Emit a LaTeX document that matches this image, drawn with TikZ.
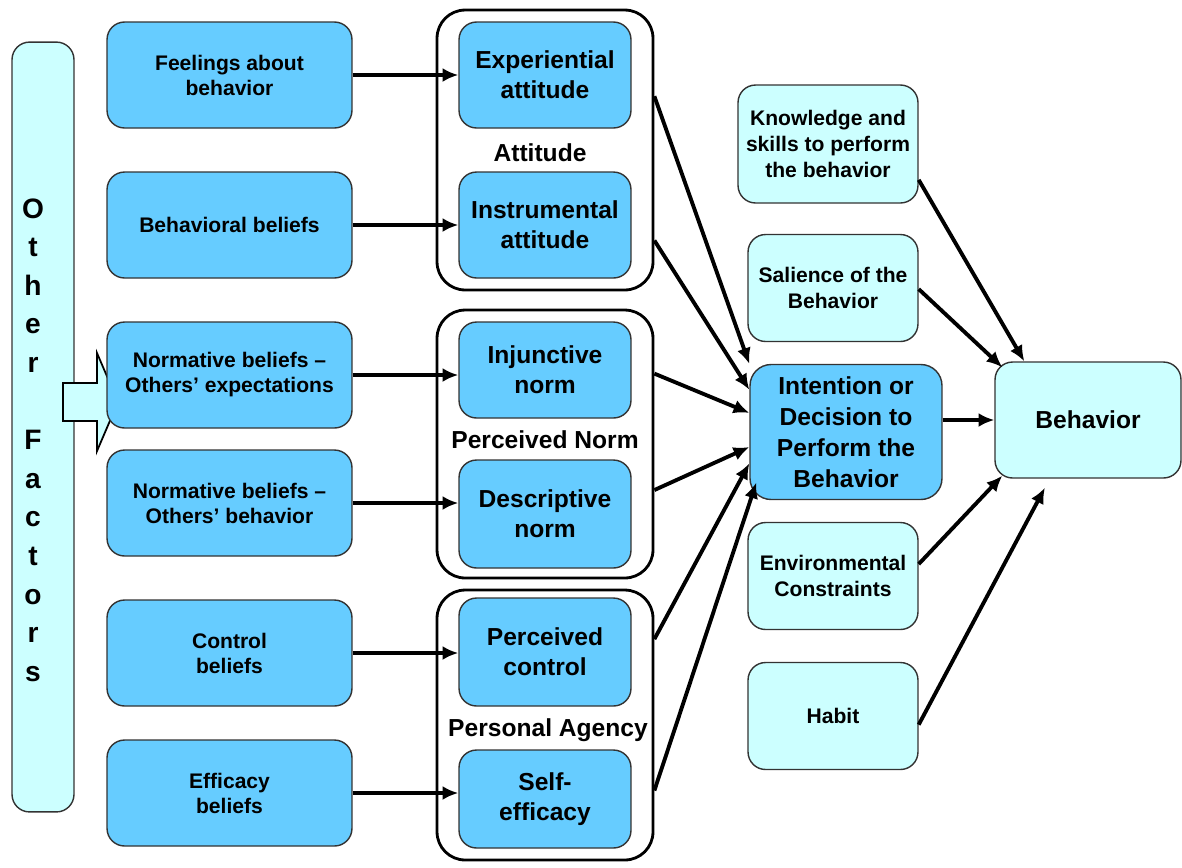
\documentclass[tikz,border=0pt]{standalone}
\usepackage{fontspec}
\setmainfont{Liberation Sans}
\usetikzlibrary{arrows.meta, calc, positioning}

\definecolor{boxblue}{HTML}{66CCFF}
\definecolor{boxcyan}{HTML}{CCFFFF}
\definecolor{boxline}{HTML}{333333}

\begin{document}
\begin{tikzpicture}[x=0.02cm, y=-0.02cm,
    belief/.style={draw=boxline, line width=0.8pt, fill=boxblue, rounded corners=10pt,
        minimum width=4.9cm, minimum height=2.12cm, inner sep=0pt, align=center,
        font=\bfseries\fontsize{12}{14.2}\selectfont},
    inner/.style={belief, minimum width=3.44cm, font=\bfseries\fontsize{14}{17}\selectfont},
    group/.style={draw, line width=1.6pt, rounded corners=16pt, minimum width=4.32cm, inner sep=0pt},
    grplabel/.style={inner sep=0pt, font=\bfseries\fontsize{14}{17}\selectfont},
    factor/.style={draw=boxline, line width=0.8pt, fill=boxcyan, rounded corners=10pt,
        inner sep=0pt, align=center, font=\bfseries\fontsize{12}{14.7}\selectfont},
    letter/.style={anchor=base, inner sep=0pt, font=\bfseries\fontsize{16}{20}\selectfont},
    link/.style={line width=2.2pt, -{Latex[length=9pt, width=8pt]}}
]
\useasboundingbox (0,0) rectangle (1182,867);

% other factors
\node[factor, minimum width=1.24cm, minimum height=15.4cm] (other) at (43,427) {};
\foreach \ch/\k in {O/0,t/1,h/2,e/3,r/4,F/6,a/7,c/8,t/9,o/10,r/11,s/12}
    \node[letter] (ltr\k) at (33,{218+38.6*\k}) {\ch};
\draw[line width=1pt, fill=boxcyan] (63,383) -- (97,383) -- (97,353) -- (118,402)
    -- (97,451) -- (97,421) -- (63,421) -- cycle;

% beliefs
\node[belief] (feel) at (229.5,75) {Feelings about\\behavior};
\node[belief] (behbel) at (229.5,225) {Behavioral beliefs};
\node[belief] (normexp) at (229.5,375) {Normative beliefs --\\Others' expectations};
\node[belief] (normbeh) at (229.5,503) {Normative beliefs --\\Others' behavior};
\node[belief] (ctrlbel) at (229.5,653) {Control\\beliefs};
\node[belief] (effbel) at (229.5,793) {Efficacy\\beliefs};

% groups
\node[group, minimum height=5.6cm] (gatt) at (545,150) {};
\node[group, minimum height=5.36cm] (gnorm) at (545,444) {};
\node[group, minimum height=5.4cm] (gagency) at (545,725) {};
\node[grplabel] (latt) at (540,153) {Attitude};
\node[grplabel] (lnorm) at (545,440) {Perceived Norm};
\node[grplabel] (lagency) at (548,730) {Personal Agency};

\node[inner] (expatt) at (545,75) {Experiential\\attitude};
\node[inner] (insatt) at (545,225) {Instrumental\\attitude};
\node[inner, minimum height=1.92cm] (injnorm) at (545,370) {Injunctive\\norm};
\node[inner, minimum height=2.16cm] (desnorm) at (545,514) {Descriptive\\norm};
\node[inner, minimum height=2.16cm] (percon) at (545,652) {Perceived\\control};
\node[inner, minimum height=1.96cm] (selfeff) at (545,799) {Self-\\efficacy};

% intention and behavior
\node[inner, minimum width=3.84cm, minimum height=2.7cm, rounded corners=12pt,
      font=\bfseries\fontsize{14}{17.6}\selectfont] (intent) at (846,432)
      {Intention or\\Decision to\\Perform the\\Behavior};
\node[factor, minimum width=3.6cm, minimum height=2.36cm] (know) at (828,144)
      {Knowledge and\\skills to perform\\the behavior};
\node[factor, minimum width=3.4cm, minimum height=2.14cm] (salience) at (833,288)
      {Salience of the\\Behavior};
\node[factor, minimum width=3.4cm, minimum height=2.14cm] (envcon) at (833,576)
      {Environmental\\Constraints};
\node[factor, minimum width=3.4cm, minimum height=2.14cm] (habit) at (833,716) {Habit};
\node[factor, minimum width=3.72cm, minimum height=2.32cm,
      font=\bfseries\fontsize{14}{17}\selectfont] (behavior) at (1088,420) {Behavior};

% arrows
\draw[link] (feel.east) -- (feel.east -| expatt.west);
\draw[link] (behbel.east) -- (behbel.east -| insatt.west);
\draw[link] (normexp.east) -- (normexp.east -| injnorm.west);
\draw[link] (normbeh.east) -- (normbeh.east -| desnorm.west);
\draw[link] (ctrlbel.east) -- (ctrlbel.east -| percon.west);
\draw[link] (effbel.east) -- (effbel.east -| selfeff.west);

\draw[link] ($(gatt.north east)!0.31!(gatt.south east)$) -- (intent.north west);
\draw[link] ($(gatt.north east)!0.82!(gatt.south east)$) -- ($(intent.north west)!0.19!(intent.south west)$);
\draw[link] ($(gnorm.north east)!0.24!(gnorm.south east)$) -- ($(intent.north west)!0.36!(intent.south west)$);
\draw[link] ($(gnorm.north east)!0.67!(gnorm.south east)$) -- ($(intent.north west)!0.61!(intent.south west)$);
\draw[link] ($(gagency.north east)!0.185!(gagency.south east)$) -- ($(intent.north west)!0.73!(intent.south west)$);
\draw[link] ($(gagency.north east)!0.74!(gagency.south east)$) -- ($(intent.north west)!0.87!(intent.south west)+(7,0)$);

\draw[link] (intent.east |- behavior.west) -- (behavior.west);
\draw[link] ($(know.north east)!0.8!(know.south east)$) -- ($(behavior.north west)!0.16!(behavior.north east)$);
\draw[link] ($(salience.north east)!0.51!(salience.south east)$) -- ($(behavior.north west)+(8,6)$);
\draw[link] ($(envcon.north east)!0.39!(envcon.south east)$) -- ($(behavior.south west)+(8,-3)$);
\draw[link] ($(habit.north east)!0.58!(habit.south east)$) -- ($(behavior.south west)!0.27!(behavior.south east)+(0,9)$);
\end{tikzpicture}
\end{document}
